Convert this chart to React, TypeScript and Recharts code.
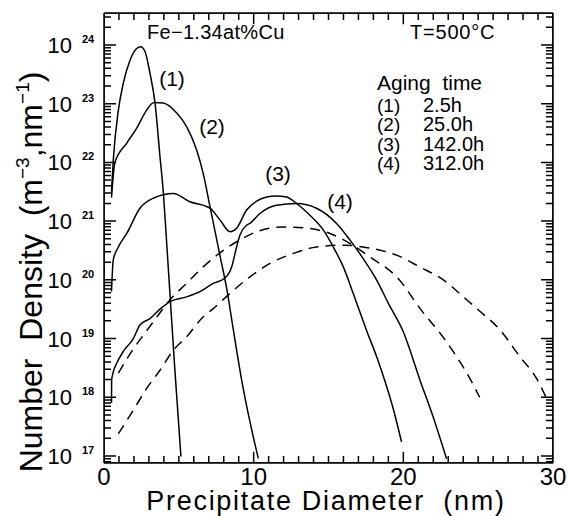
import { LineChart, Line, XAxis, YAxis } from 'recharts'

// Precipitate diameter (nm) and log10 of the number density (m^-3 nm^-1)
const age1D = [0.5, 0.62, 0.96, 1.29, 1.74, 2.18, 2.45, 2.74, 3.07, 3.41, 3.74, 3.97, 4.19, 4.46, 4.74, 5.14]
const age1N = [21.5, 22.04, 22.89, 23.35, 23.74, 23.94, 23.97, 23.89, 23.52, 23.01, 22.1, 21.47, 20.62, 19.55, 18.45, 16.99]

const age2D = [0.5, 0.73, 1.52, 2.18, 2.85, 3.34, 3.96, 4.86, 5.52, 6.19, 6.63, 7.08, 7.8, 8.2, 8.64, 9.3, 9.97, 10.31]
const age2N = [21.4, 22.0, 22.33, 22.58, 22.89, 23.02, 23.01, 22.84, 22.61, 22.21, 21.81, 21.25, 20.35, 19.85, 19.15, 18.15, 17.33, 16.96]

const age3D = [0.5, 0.62, 0.96, 1.52, 2.4, 3.29, 4.63, 5.74, 7.08, 7.75, 8.42, 8.86, 9.53, 10.2, 10.87, 11.5, 12.2, 12.87, 13.76, 14.65, 15.32, 15.99, 16.65, 17.0, 17.6, 18.22, 18.8, 19.33, 19.88]
const age3N = [19.8, 20.34, 20.56, 20.79, 21.22, 21.39, 21.47, 21.33, 21.22, 21.02, 20.82, 20.88, 21.19, 21.34, 21.41, 21.43, 21.41, 21.3, 21.1, 20.85, 20.56, 20.22, 19.77, 19.52, 19.1, 18.69, 18.25, 17.8, 17.24]

const age4D = [0.5, 0.51, 0.62, 0.85, 1.29, 1.96, 2.4, 3.07, 3.74, 4.41, 5.52, 6.41, 7.3, 8.08, 8.53, 8.86, 9.08, 9.53, 9.75, 10.42, 11.54, 12.87, 14.2, 15.54, 16.43, 17.32, 18.21, 19.0, 19.99, 21.1, 22.0, 22.89]
const age4N = [17.9, 18.29, 18.43, 18.58, 18.78, 19.0, 19.23, 19.34, 19.5, 19.63, 19.71, 19.8, 19.94, 20.03, 20.22, 20.56, 20.76, 20.93, 20.96, 21.13, 21.27, 21.3, 21.22, 20.96, 20.68, 20.36, 20.0, 19.6, 19.12, 18.3, 17.66, 16.95]

// dashed curves
const fitAD = [0.96, 1.85, 2.96, 3.63, 4.41, 5.52, 6.63, 7.86, 9.08, 10.2, 11.98, 13.54, 15.1, 16.43, 17.77, 19.55, 21.3, 22.67, 23.51, 24.27, 25.1]
const fitAN = [18.41, 18.78, 19.17, 19.4, 19.66, 19.94, 20.22, 20.48, 20.68, 20.82, 20.9, 20.88, 20.79, 20.62, 20.39, 20.05, 19.45, 19.02, 18.71, 18.4, 18.0]

const fitBD = [0.96, 1.96, 2.85, 3.74, 4.63, 5.52, 6.63, 7.3, 8.64, 9.75, 11.09, 12.65, 14.2, 16.0, 17.77, 19.55, 21.1, 22.67, 24.23, 25.0, 26.45, 27.79, 28.9, 29.57]
const fitBN = [17.38, 17.78, 18.15, 18.46, 18.8, 19.03, 19.37, 19.51, 19.82, 20.05, 20.28, 20.45, 20.56, 20.59, 20.54, 20.42, 20.22, 20.0, 19.66, 19.49, 19.15, 18.69, 18.32, 17.98]

const legendIds = ['(1)', '(2)', '(3)', '(4)']
const legendTimes = ['2.5h', '25.0h', '142.0h', '312.0h']

const xLabels = [0, 10, 20, 30]
const xTicks = Array.from({ length: 31 }, (_, i) => i)
const decades = [17, 18, 19, 20, 21, 22, 23, 24]

const X_MIN = 0
const X_MAX = 30
const Y_MIN = 10 ** 16.88
const Y_MAX = 10 ** 24.545

const yTicks: number[] = []
;[16, ...decades].forEach((e) => {
  for (let k = 1; k <= 9; k++) {
    const v = k * 10 ** e
    if (v >= Y_MIN && v <= Y_MAX) yTicks.push(v)
  }
})

const toPoints = (d: number[], n: number[]) => d.map((x, i) => ({ d: x, n: 10 ** n[i] }))

const FONT = '"Liberation Sans", Arial, sans-serif'
const INK = '#000'

const isDecade = (v: number) => {
  const e = Math.log10(v)
  return Math.abs(e - Math.round(e)) < 1e-6
}

// inward tick marks: one comb-shaped path per side, running along the frame
const xTickLen = (v: number) => (xLabels.includes(v) ? 0.19 : 0.12) // decades
const yTickLen = (v: number) => (isDecade(v) ? 0.8 : 0.47) // nm

const combs = [
  xTicks.flatMap((v) => [
    { d: v, n: Y_MIN },
    { d: v, n: Y_MIN * 10 ** xTickLen(v) },
    { d: v, n: Y_MIN },
  ]),
  xTicks.flatMap((v) => [
    { d: v, n: Y_MAX },
    { d: v, n: Y_MAX / 10 ** xTickLen(v) },
    { d: v, n: Y_MAX },
  ]),
  yTicks.flatMap((v) => [
    { d: X_MIN, n: v },
    { d: X_MIN + yTickLen(v), n: v },
    { d: X_MIN, n: v },
  ]),
  yTicks.flatMap((v) => [
    { d: X_MAX, n: v },
    { d: X_MAX - yTickLen(v), n: v },
    { d: X_MAX, n: v },
  ]),
]

const BottomLabel = ({ x, y, payload }: any) =>
  xLabels.includes(payload.value) ? (
    <text x={x} y={y + 22} textAnchor="middle" fontSize={24} fontFamily={FONT} fill={INK}>
      {payload.value}
    </text>
  ) : (
    <g />
  )

const LeftLabel = ({ x, y, payload }: any) => {
  if (!isDecade(payload.value)) return <g />
  const e = Math.round(Math.log10(payload.value))
  return (
    <g>
      <text x={x - 32} y={y + 8} textAnchor="end" fontSize={22} fontFamily={FONT} fill={INK}>
        10
      </text>
      <text x={x - 22} y={y - 2} fontSize={11} fontWeight="bold" fontFamily={FONT} fill={INK}>
        {e}
      </text>
    </g>
  )
}

const solid = [
  toPoints(age1D, age1N),
  toPoints(age2D, age2N),
  toPoints(age3D, age3N),
  toPoints(age4D, age4N),
]
const dashed = [toPoints(fitAD, fitAN), toPoints(fitBD, fitBN)]

// curve labels placed next to each curve
const curveLabels = [
  { t: '(1)', x: 172, y: 86 },
  { t: '(2)', x: 212, y: 134 },
  { t: '(3)', x: 278, y: 181 },
  { t: '(4)', x: 340, y: 209 },
]

const axisLine = { stroke: INK, strokeWidth: 1.5 }

export default function App() {
  return (
    <div style={{ position: 'absolute', left: 0, top: 0, width: 568, height: 516, background: '#fff' }}>
      <LineChart width={568} height={516} margin={{ top: 0, right: 0, left: 0, bottom: 0 }}>
        <XAxis
          dataKey="d"
          type="number"
          domain={[X_MIN, X_MAX]}
          allowDataOverflow
          ticks={xTicks}
          interval={0}
          height={53}
          tickSize={0}
          tickMargin={0}
          tickLine={false}
          axisLine={axisLine}
          tick={(p: any) => <BottomLabel {...p} />}
        />
        <XAxis
          xAxisId="top"
          orientation="top"
          dataKey="d"
          type="number"
          domain={[X_MIN, X_MAX]}
          allowDataOverflow
          ticks={xTicks}
          height={13}
          tickLine={false}
          axisLine={axisLine}
          tick={false}
        />
        <YAxis
          scale="log"
          type="number"
          domain={[Y_MIN, Y_MAX]}
          allowDataOverflow
          ticks={yTicks}
          interval={0}
          width={104}
          tickSize={0}
          tickMargin={0}
          tickLine={false}
          axisLine={axisLine}
          tick={(p: any) => <LeftLabel {...p} />}
        />
        <YAxis
          yAxisId="right"
          orientation="right"
          scale="log"
          type="number"
          domain={[Y_MIN, Y_MAX]}
          allowDataOverflow
          ticks={yTicks}
          width={15}
          tickLine={false}
          axisLine={axisLine}
          tick={false}
        />
        {combs.map((pts, i) => (
          <Line
            key={'c' + i}
            data={pts}
            dataKey="n"
            type="linear"
            stroke={INK}
            strokeWidth={1.5}
            dot={false}
            activeDot={false}
            legendType="none"
            isAnimationActive={false}
          />
        ))}
        {solid.map((pts, i) => (
          <Line
            key={'s' + i}
            data={pts}
            dataKey="n"
            type="monotone"
            stroke={INK}
            strokeWidth={1.5}
            dot={false}
            activeDot={false}
            isAnimationActive={false}
          />
        ))}
        {dashed.map((pts, i) => (
          <Line
            key={'d' + i}
            data={pts}
            dataKey="n"
            type="monotone"
            stroke={INK}
            strokeWidth={1.5}
            strokeDasharray="10 7"
            dot={false}
            activeDot={false}
            isAnimationActive={false}
          />
        ))}
      </LineChart>
      <svg
        width={568}
        height={516}
        style={{ position: 'absolute', left: 0, top: 0, pointerEvents: 'none' }}
        fontFamily={FONT}
        fill={INK}
      >
        <text x={147} y={39} fontSize={20} letterSpacing={0.3}>
          Fe−1.34at%Cu
        </text>
        <text x={410} y={39} fontSize={20} letterSpacing={0.8}>
          T=500°C
        </text>
        <text x={377} y={90} fontSize={21} style={{ whiteSpace: 'pre' }}>
          Aging  time
        </text>
        {legendIds.map((id, i) => (
          <g key={id}>
            <text x={377} y={112 + i * 19.3} fontSize={19}>
              {id}
            </text>
            <text x={423} y={112 + i * 19.3} fontSize={20}>
              {legendTimes[i]}
            </text>
          </g>
        ))}
        {curveLabels.map((c) => (
          <text key={c.t} x={c.x} y={c.y} fontSize={21} textAnchor="middle">
            {c.t}
          </text>
        ))}
        <text x={326} y={510} fontSize={27} textAnchor="middle" letterSpacing={1.7} style={{ whiteSpace: 'pre' }}>
          Precipitate Diameter  (nm)
        </text>
        <text
          transform="translate(42, 272) rotate(-90)"
          fontSize={32}
          textAnchor="middle"
          style={{ whiteSpace: 'pre' }}
        >
          Number  Density  (m
          <tspan dy={-13} fontSize={19}>
            −3
          </tspan>
          <tspan dy={13}>,nm</tspan>
          <tspan dy={-13} fontSize={19}>
            −1
          </tspan>
          <tspan dy={13}>)</tspan>
        </text>
      </svg>
    </div>
  )
}
